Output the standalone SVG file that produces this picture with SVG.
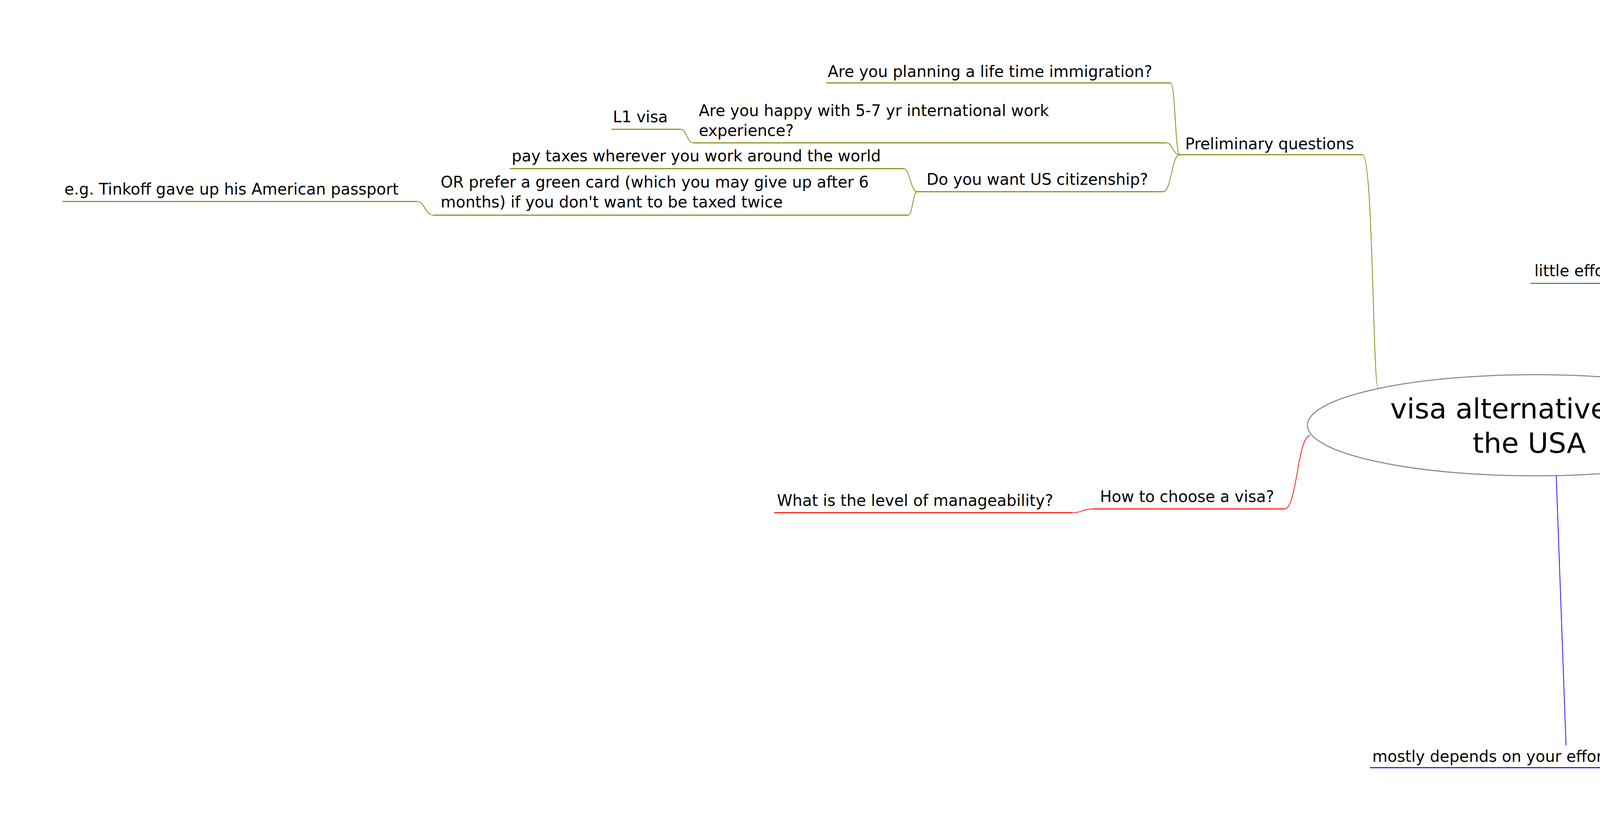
<svg xmlns="http://www.w3.org/2000/svg" width="7507" height="2122" viewBox="0 0 7507 2122">
<style>
text{font-family:"DejaVu Sans","Liberation Sans",sans-serif;font-size:40px;fill:#000}
.root{font-size:72px}
.u{fill:none;stroke-width:2.4}
.c{fill:none;stroke-width:1.8}
.olive{stroke:#808000}.navy{stroke:#000080}.maroon{stroke:#800000}.lime{stroke:#00ff00}.red{stroke:#ff0000}.blue{stroke:#0000ff}.green{stroke:#008000}
</style>
<rect width="7507" height="2122" fill="#ffffff"/>
<g id="connectors">
<path class="c olive" d="M3528,993 C3514,993 3516,396 3488,396"/>
<path class="c olive" d="M3020,396 C3008.5,396 3008.5,212.3 2997,212.3"/>
<path class="c olive" d="M3020,396 C3002.5,396 3002.5,365.7 2985,365.7"/>
<path class="c olive" d="M3020,396 C2999,396 2999,490.7 2978,490.7"/>
<path class="c olive" d="M1775,365.7 C1758.5,365.7 1758.5,331 1742,331"/>
<path class="c olive" d="M2348,490.7 C2330.5,490.7 2330.5,431.7 2313,431.7"/>
<path class="c olive" d="M2348,490.7 C2336.5,490.7 2336.5,550.7 2325,550.7"/>
<path class="c olive" d="M1109,550.7 C1088,550.7 1088,515.7 1067,515.7"/>
<path class="c red" d="M3354,1115 C3321,1115 3321,1302.7 3288,1302.7"/>
<path class="c red" d="M2798,1302.7 C2771.5,1302.7 2771.5,1312.3 2745,1312.3"/>
<path class="c green" d="M4210,974 C4205,880 4160,780 4146,725.4"/>
<path class="c blue" d="M3984,1219 L4009,1908"/>
<path class="c navy" d="M4353,996 C4408,996 4517,318.6 4572,318.6"/>
<path class="c navy" d="M4978,318.6 C4986.5,318.6 4986.5,312 4995,312"/>
<path class="c navy" d="M5277,312 C5284.5,312 5284.5,306 5292,306"/>
<path class="c maroon" d="M4412.5,1015.6 C4472,1015.6 4512,546.6 4572,546.6"/>
<path class="c maroon" d="M4966,546.6 C4990.5,546.6 4990.5,384 5015,384"/>
<path class="c maroon" d="M4966,546.6 C4990.5,546.6 4990.5,540 5015,540"/>
<path class="c maroon" d="M4966,546.6 C4990.5,546.6 4990.5,706 5015,706"/>
<path class="c maroon" d="M5687,540 C5711,540 5711,450.5 5735,450.5"/>
<path class="c maroon" d="M5687,540 C5711,540 5711,568 5735,568"/>
<path class="c maroon" d="M5687,540 C5711,540 5711,634.3 5735,634.3"/>
<path class="c maroon" d="M5874,706 C5893.5,706 5893.5,700 5913,700"/>
<path class="c lime" d="M4512,1079 C4535,1079 4535,1053 4558,1053"/>
<path class="c lime" d="M4867,1053 C4887,1053 4887,825 4923,825"/>
<path class="c lime" d="M4867,1053 C4887,1053 4887,1034 4923,1034"/>
<path class="c lime" d="M4867,1053 C4887,1053 4887,1146 4923,1146"/>
<path class="c lime" d="M4867,1053 C4887,1053 4887,1211 4923,1211"/>
<path class="c lime" d="M4867,1053 C4887,1053 4887,1330.6 4923,1330.6"/>
<path class="c lime" d="M6116,1034 C6137.5,1034 6137.5,890 6159,890"/>
<path class="c lime" d="M6116,1034 C6137.5,1034 6137.5,1009.3 6159,1009.3"/>
<path class="c lime" d="M6116,1034 C6137.5,1034 6137.5,1075 6159,1075"/>
<path class="c lime" d="M5457,1146 C5473.5,1146 5473.5,1140.6 5490,1140.6"/>
<path class="c red" d="M4467,1140 C4518,1140 4519,1509.3 4570,1509.3"/>
<path class="c red" d="M5105,1509.3 C5128,1509.3 5128,1556 5151,1556"/>
<path class="c red" d="M5105,1509.3 C5128,1509.3 5128,1621 5151,1621"/>
<path class="c blue" d="M4383,1170.6 C4443,1170.6 4510,1799.8 4570,1799.8"/>
<path class="c blue" d="M4966,1799.8 C4989,1799.8 4989,1898 5012,1898"/>
</g>
<g id="root">
<ellipse cx="3929.5" cy="1088.5" rx="582.5" ry="129.5" fill="#ffffff" stroke="#808080" stroke-width="2.5"/>
<text class="root"><tspan x="3559" y="1071.4">visa alternatives in</tspan><tspan x="3770" y="1159.3">the USA</tspan></text>
</g>
<g id="n-preliminary"><path class="u olive" d="M3020,396 H3488"/><text x="3034" y="381.7">Preliminary questions</text></g>
<g id="n-lifetime"><path class="u olive" d="M2115,212.3 H2997"/><text x="2119" y="197">Are you planning a life time immigration?</text></g>
<g id="n-happy"><path class="u olive" d="M1775,365.7 H2985"/><text x="1789" y="296.7">Are you happy with 5-7 yr international work<tspan x="1789" dy="51">experience?</tspan></text></g>
<g id="n-l1-left"><path class="u olive" d="M1565,331 H1742"/><text x="1569" y="313">L1 visa</text></g>
<g id="n-citizenship"><path class="u olive" d="M2348,490.7 H2978"/><text x="2372" y="473">Do you want US citizenship?</text></g>
<g id="n-taxes"><path class="u olive" d="M1305,431.7 H2313"/><text x="1310" y="413">pay taxes wherever you work around the world</text></g>
<g id="n-prefer-gc"><path class="u olive" d="M1109,550.7 H2325"/><text x="1128" y="480">OR prefer a green card (which you may give up after 6<tspan x="1128" dy="51">months) if you don't want to be taxed twice</tspan></text></g>
<g id="n-tinkoff"><path class="u olive" d="M160,515.7 H1067"/><text x="165" y="498">e.g. Tinkoff gave up his American passport</text></g>
<g id="n-howto"><path class="u red" d="M2798,1302.7 H3288"/><text x="2816" y="1285">How to choose a visa?</text></g>
<g id="n-level"><path class="u red" d="M1982,1312.3 H2745"/><text x="1989" y="1295">What is the level of manageability?</text></g>
<g id="n-luck"><path class="u green" d="M3918,725.4 H4378"/><text x="3928" y="707">little effort - only luck</text></g>
<g id="n-efforts"><path class="u blue" d="M3507,1965 H4511"/><text x="3513" y="1950">mostly depends on your efforts - manageability</text></g>
<g id="n-lottery"><path class="u navy" d="M4572,318.6 H4978"/><text x="4578" y="303.5">green card lottery</text></g>
<g id="n-chance"><path class="u navy" d="M4995,312 H5277"/><text x="5033" y="296.5">1% chance</text></g>
<g id="n-nothing"><path class="u navy" d="M5292,306 H6214"/><text x="5332" y="289.5">nothing can be done to increase likeliness</text></g>
<g id="n-h1b"><path class="u maroon" d="M4572,546.6 H4966"/><text x="4578" y="529.8">H1-B visa (5-7yrs)</text></g>
<g id="n-classical"><path class="u maroon" d="M5015,384 H5846"/><text x="5030" y="366.6">the most classical work visa procedure</text></g>
<g id="n-25"><path class="u maroon" d="M5015,540 H5687"/><text x="5030" y="524.5">25% lottery once / year in April</text></g>
<g id="n-failed"><path class="u maroon" d="M5735,450.5 H6670"/><text x="5752" y="432">some people have failed 4 years in a row!...</text></g>
<g id="n-wait"><path class="u maroon" d="M5735,568 H6928"/><text x="5752" y="498">need to wait up to 6 months before actually being able<tspan x="5752" dy="51">to work</tspan></text></g>
<g id="n-notwell"><path class="u maroon" d="M5735,634.3 H6443"/><text x="5752" y="615.7">not well thought of by employers</text></g>
<g id="n-abused"><path class="u maroon" d="M5015,706 H5874"/><text x="5030" y="687.6">system abused of by Indian body shops</text></g>
<g id="n-difficult"><path class="u maroon" d="M5913,700 H6738"/><text x="5930" y="682">increasingly difficult to get a work visa</text></g>
<g id="n-l1"><path class="u lime" d="M4558,1053 H4867"/><text x="4581" y="1035.6">L1 visa (3yrs)</text></g>
<g id="n-subsidiary"><path class="u lime" d="M4923,825 H6110"/><text x="4935" y="758">you have to work for at least 1 year for a subsidiary in<tspan x="4935" dy="51">Europe</tspan></text></g>
<g id="n-help"><path class="u lime" d="M4923,1034 H6116"/><text x="4935" y="914">employer can help you move from Europe to the USA,<tspan x="4935" dy="51">but eventually they won't be able to sponsor your</tspan><tspan x="4935" dy="51">application</tspan></text></g>
<g id="n-max7"><path class="u lime" d="M6159,890 H6943"/><text x="6176" y="874">after max 7 years, will have to leave</text></g>
<g id="n-career"><path class="u lime" d="M6159,1009.3 H7349"/><text x="6176" y="940">no career progression (because stuck in the same<tspan x="6176" dy="51">company)</tspan></text></g>
<g id="n-google"><path class="u lime" d="M6159,1075 H7262"/><text x="6176" y="1058">e.g. Google - companies are not sponsors any more</text></g>
<g id="n-dependent"><path class="u lime" d="M4923,1146 H5457"/><text x="4935" y="1129">dependent on employer</text></g>
<g id="n-redundant"><path class="u lime" d="M5490,1140.6 H6377"/><text x="5507" y="1124.5">if made redundant -&gt; back to square one</text></g>
<g id="n-cant"><path class="u lime" d="M4923,1211 H6099"/><text x="4935" y="1196">employer can't support you for applying for a green card</text></g>
<g id="n-workaround"><path class="u lime" d="M4923,1330.6 H6108"/><text x="4935" y="1261">workaround: if you move with your own company (but<tspan x="4935" dy="51">you have to be employed abroad at least for 1 year).</tspan></text></g>
<g id="n-o1"><path class="u red" d="M4570,1509.3 H5105"/><text x="4582" y="1491.8">0-1visa (1.5 yr + 2-3yrs)</text></g>
<g id="n-local"><path class="u red" d="M5151,1556 H6024"/><text x="5166" y="1384">evidence of local (national) achievements<tspan x="5166" dy="51">+ non-immigration intent</tspan><tspan x="5166" dy="51">less paperwork</tspan><tspan x="5166" dy="51">= only temp residence visa valid 5 yrs</tspan></text></g>
<g id="n-extra"><path class="u red" d="M5151,1621 H6046"/><text x="5166" y="1604">need extra 2-3 years to obtain green card</text></g>
<g id="n-eb1a"><path class="u blue" d="M4570,1799.8 H4966"/><text x="4582" y="1783.5">EB-1A visa (1.5yr)</text></g>
<g id="n-international"><path class="u blue" d="M5012,1898 H6203"/><text x="5030" y="1674">evidence of international achievements<tspan x="5030" dy="51">e.g. 4+ international publications...</tspan><tspan x="5030" dy="51">+ dual intent (immigration + work)</tspan><tspan x="5030" dy="51">-&gt; EB1-A less likely for people who have only started</tspan><tspan x="5030" dy="51">their career</tspan></text></g>
</svg>
